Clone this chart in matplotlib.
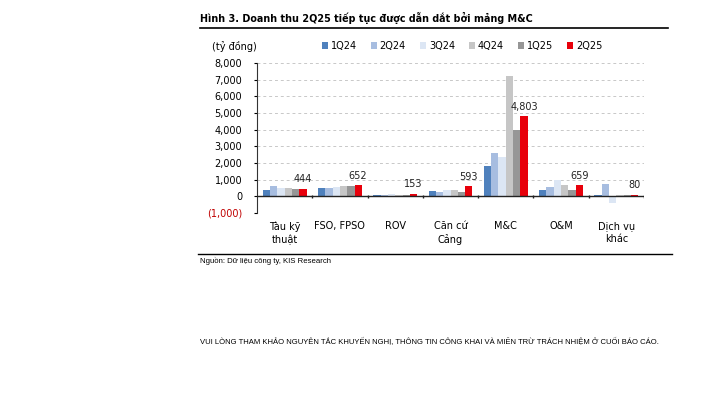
import matplotlib
matplotlib.use("Agg")
import matplotlib.pyplot as plt
import numpy as np
from matplotlib.lines import Line2D
from matplotlib.patches import Patch

# Doanh thu theo mảng (tỷ đồng)
categories = ["Tàu kỹ\nthuật", "FSO, FPSO", "ROV", "Căn cứ\nCảng", "M&C", "O&M", "Dịch vụ\nkhác"]
quarters = ["1Q24", "2Q24", "3Q24", "4Q24", "1Q25", "2Q25"]
q1_24 = [380, 520, 100, 320, 1800, 380, 100]
q2_24 = [620, 520, 100, 280, 2600, 560, 740]
q3_24 = [520, 580, 120, 360, 2360, 960, -380]
q4_24 = [520, 620, 80, 360, 7200, 700, 100]
q1_25 = [460, 600, 60, 280, 4000, 360, 80]
q2_25 = [444, 652, 153, 593, 4803, 659, 80]
series = [q1_24, q2_24, q3_24, q4_24, q1_25, q2_25]
colors = ["#4f81bd", "#a7bde0", "#dce6f4", "#c6c6c6", "#969696", "#e8000b"]

FS = 7.0
plt.rcParams["font.family"] = ["DejaVu Sans"]
fig = plt.figure(figsize=(7.26, 3.94), dpi=100)
ax = fig.add_axes([257 / 726, 1 - 213 / 394, 387 / 726, 150 / 394])

x = np.arange(len(categories))
bw = 0.132
for i, (vals, c) in enumerate(zip(series, colors)):
    ax.bar(x + (i - 2.5) * bw, vals, width=bw, color=c, label=quarters[i], linewidth=0)

# nhãn giá trị cho 2Q25
for xi, v in zip(x, q2_25):
    ax.text(xi + 2.5 * bw, v + 280, f"{v:,}", ha="center", va="bottom", fontsize=FS, color="#222222")

ax.set_xlim(-0.5, len(categories) - 0.5)
ax.set_ylim(-1000, 8000)
ax.set_yticks(np.arange(-1000, 8001, 1000))
ax.set_yticklabels([f"({abs(t):,})" if t < 0 else f"{t:,}" for t in range(-1000, 8001, 1000)], fontsize=FS)
for lbl in ax.get_yticklabels():
    if lbl.get_text().startswith("("):
        lbl.set_color("#c00000")
ax.yaxis.grid(True, linestyle=(0, (3, 3)), color="#c8c8c8", linewidth=0.7)
ax.set_axisbelow(True)
ax.tick_params(axis="y", length=2.5, width=0.8, pad=8)

ax.set_xticks(x)
ax.set_xticklabels(categories, fontsize=FS, linespacing=1.35)
ax.tick_params(axis="x", length=0, pad=6)

for s in ["top", "right", "bottom"]:
    ax.spines[s].set_visible(False)
ax.spines["left"].set_color("#333333")
ax.axhline(0, color="#222222", linewidth=1.0, zorder=3)
ax.vlines(np.arange(0.5, len(categories)), -80, 80, color="#222222", linewidth=1.0, zorder=3)

handles = [Patch(facecolor=c, label=q) for c, q in zip(colors, quarters)]
fig.legend(handles=handles, ncol=6, loc="center left", bbox_to_anchor=(322 / 726, 1 - 46 / 394),
           frameon=False, fontsize=FS, handlelength=0.6, handleheight=0.6, handletextpad=0.3,
           columnspacing=1.45, borderpad=0, borderaxespad=0)

fig.text(212 / 726, 1 - 46 / 394, "(tỷ đồng)", fontsize=FS, va="center", ha="left")

# tiêu đề và đường kẻ
fig.text(200 / 726, 1 - 18 / 394, "Hình 3. Doanh thu 2Q25 tiếp tục được dẫn dắt bởi mảng M&C",
         fontsize=6.9, fontweight="bold", va="center", ha="left")
fig.add_artist(Line2D([200 / 726, 668 / 726], [1 - 28 / 394] * 2, color="black", linewidth=1.2))
fig.add_artist(Line2D([198 / 726, 672 / 726], [1 - 254 / 394] * 2, color="black", linewidth=1.0))

fig.text(200 / 726, 1 - 261 / 394, "Nguồn: Dữ liệu công ty, KIS Research", fontsize=5.6,
         family="Liberation Sans", va="center", ha="left")
fig.text(429 / 726, 1 - 342 / 394,
         "VUI LÒNG THAM KHẢO NGUYÊN TẮC KHUYẾN NGHỊ, THÔNG TIN CÔNG KHAI VÀ MIỄN TRỪ TRÁCH NHIỆM Ở CUỐI BÁO CÁO.",
         fontsize=5.5, family="Liberation Sans", va="center", ha="center")

fig.savefig("out.png", dpi=100)
